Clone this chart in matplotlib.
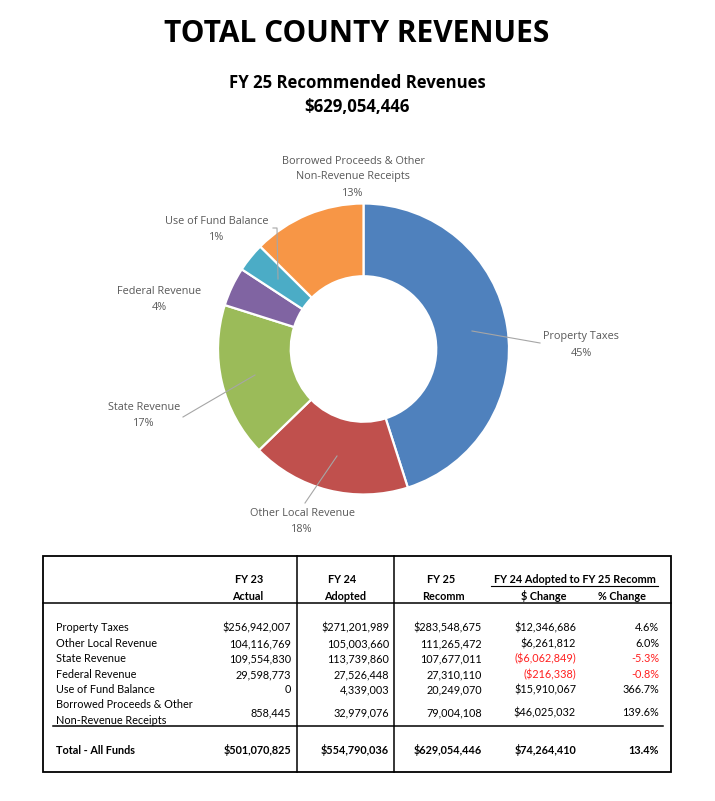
import matplotlib
matplotlib.use("Agg")
import matplotlib.pyplot as plt
from matplotlib.lines import Line2D
from matplotlib.patches import Rectangle

# ---------------- data ----------------
categories = ["Property Taxes", "Other Local Revenue", "State Revenue",
              "Federal Revenue", "Use of Fund Balance",
              "Borrowed Proceeds & Other\nNon-Revenue Receipts"]
fy23_actual = [256942007, 104116769, 109554830, 29598773, 0, 858445]
fy24_adopted = [271201989, 105003660, 113739860, 27526448, 4339003, 32979076]
fy25_recomm = [283548675, 111265472, 107677011, 27310110, 20249070, 79004108]
dollar_change = [12346686, 6261812, -6062849, -216338, 15910067, 46025032]
pct_change = [4.6, 6.0, -5.3, -0.8, 366.7, 139.6]
total_values = [501070825, 554790036, 629054446, 74264410]
total_pct = 13.4
pie_pct_labels = ["45%", "18%", "17%", "4%", "1%", "13%"]
colors = ["#4F81BD", "#C0504D", "#9BBB59", "#8064A2", "#4BACC6", "#F79646"]

title = "TOTAL COUNTY REVENUES"
subtitle = "FY 25 Recommended Revenues"
subtitle_total = "$629,054,446"

W, H = 715, 801
fig = plt.figure(figsize=(W / 100, H / 100), dpi=100)
fig.patch.set_facecolor("white")

# ---------------- donut ----------------
cx, cy, R = 363.5, 349, 145.5
pax = fig.add_axes([(cx - R) / W, 1 - (cy + R) / H, 2 * R / W, 2 * R / H])
pax.pie(fy25_recomm, colors=colors, startangle=90, counterclock=False,
        radius=1, wedgeprops=dict(width=0.5, edgecolor="white", linewidth=1.6))
pax.set_xlim(-1, 1)
pax.set_ylim(-1, 1)
pax.axis("off")

# ---------------- overlay (pixel coords) ----------------
ov = fig.add_axes([0, 0, 1, 1])
ov.set_xlim(0, W)
ov.set_ylim(H, 0)
ov.axis("off")
ov.patch.set_alpha(0)

TF = "Open Sans"
ov.text(357, 34, title, ha="center", va="center", fontsize=21.5,
        fontweight="bold", family=TF, color="black")
ov.text(357, 83.5, subtitle, ha="center", va="center", fontsize=12.1,
        fontweight="bold", family=TF, color="black")
ov.text(357, 106.5, subtitle_total, ha="center", va="center", fontsize=12.1,
        fontweight="bold", family=TF, color="black")

# pie labels
LBL = "#595959"
LF = 7.8
label_pos = [(581, 337), (302, 514), (144, 408), (159, 291), (217, 221), (353, 161)]
for name, pct, (lx, ly) in zip(categories, pie_pct_labels, label_pos):
    lines = name.split("\n") + [pct]
    for k, t in enumerate(lines):
        ov.text(lx, ly + 16 * k, t, ha="center", va="center", fontsize=LF,
                family=TF, color=LBL)

LC = "#A6A6A6"
leaders = [
    ([472, 540], [331, 343]),
    ([337, 305], [456, 503]),
    ([183, 200, 255], [417, 407, 375]),
    ([273, 277, 278], [228, 228, 279]),
]
for xs, ys in leaders:
    ov.add_line(Line2D(xs, ys, color=LC, lw=0.8))

# ---------------- table ----------------
TBF = "Lato"
FS = 7.8
L, T, Rr, B = 43, 556, 671, 772
ov.add_patch(Rectangle((L, T), Rr - L, B - T, fill=False, lw=1.3, ec="black"))
ov.add_line(Line2D([L, Rr], [603, 603], color="black", lw=1.1))
for vx in (297, 394):
    ov.add_line(Line2D([vx, vx], [T, B], color="black", lw=1.1))
ov.add_line(Line2D([53, 663], [726, 726], color="black", lw=1.1))

DY = 1.5
hdr = dict(ha="center", va="center", fontsize=FS, fontweight="bold",
           family=TBF, color="black")
ov.text(249, 578 + DY, "FY 23", **hdr)
ov.text(248, 595 + DY, "Actual", **hdr)
ov.text(342, 578 + DY, "FY 24", **hdr)
ov.text(345, 595 + DY, "Adopted", **hdr)
ov.text(441, 578 + DY, "FY 25", **hdr)
ov.text(443, 595 + DY, "Recomm", **hdr)
ov.text(575, 578 + DY, "FY 24 Adopted to FY 25 Recomm", **hdr)
ov.add_line(Line2D([491, 658], [586, 586], color="black", lw=0.8))
ov.text(544, 595 + DY, "$ Change", **hdr)
ov.text(622, 595 + DY, "% Change", **hdr)

row_y = [626, 642, 657, 673, 688, 711]
col_x = [291, 389, 482, 576, 659]
RED = "#FF1F1F"


def fmt_num(v, dollar):
    s = f"{abs(v):,.0f}"
    return ("$" + s) if dollar else s


for i, name in enumerate(categories):
    y = row_y[i] + DY
    if "\n" in name:
        a, b = name.split("\n")
        ov.text(56, 703 + DY, a, ha="left", va="center", fontsize=FS, family=TBF)
        ov.text(56, 719 + DY, b, ha="left", va="center", fontsize=FS, family=TBF)
    else:
        ov.text(56, y, name, ha="left", va="center", fontsize=FS, family=TBF)
    dollar = (i == 0)
    vals = [fy23_actual[i], fy24_adopted[i], fy25_recomm[i]]
    for x, v in zip(col_x[:3], vals):
        ov.text(x, y, fmt_num(v, dollar), ha="right", va="center",
                fontsize=FS, family=TBF)
    dc = dollar_change[i]
    if dc < 0:
        ov.text(col_x[3], y, "(" + fmt_num(dc, True) + ")", ha="right",
                va="center", fontsize=FS, family=TBF, color=RED)
    else:
        ov.text(col_x[3], y, fmt_num(dc, True), ha="right", va="center",
                fontsize=FS, family=TBF)
    pc = pct_change[i]
    ov.text(col_x[4], y, f"{pc:.1f}%", ha="right", va="center", fontsize=FS,
            family=TBF, color=RED if pc < 0 else "black")

ty = 749 + DY
ov.text(56, ty, "Total - All Funds", ha="left", va="center", fontsize=FS,
        fontweight="bold", family=TBF)
for x, v in zip(col_x[:4], total_values):
    ov.text(x, ty, fmt_num(v, True), ha="right", va="center", fontsize=FS,
            fontweight="bold", family=TBF)
ov.text(col_x[4], ty, f"{total_pct:.1f}%", ha="right", va="center",
        fontsize=FS, fontweight="bold", family=TBF)

fig.savefig("out.png", dpi=100, facecolor="white")
